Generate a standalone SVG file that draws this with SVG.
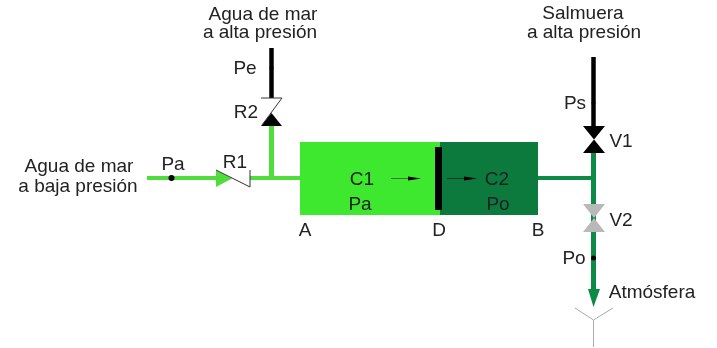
<svg xmlns="http://www.w3.org/2000/svg" width="717" height="348" viewBox="0 0 717 348">
<defs>
<style>
text{font-family:"Liberation Sans",Arial,sans-serif;font-size:19px;fill:#222;text-anchor:middle}
.lg{stroke:#4fdc3c;fill:none}
.dg{stroke:#0f8a45;fill:none}
.bk{stroke:#000;fill:none}
.z{stroke:#333;stroke-width:1;fill:none}
.gr{fill:#b9b9b9}
</style>
<filter id="soft" x="-5%" y="-5%" width="110%" height="110%"><feGaussianBlur stdDeviation="0.5"/></filter>
</defs>
<rect width="717" height="348" fill="#fff"/>
<g filter="url(#soft)">
<g id="connectors">
<path class="lg" stroke-width="4" d="M147 178H216M250 178H300"/>
<path class="lg" stroke-width="5" d="M271.500 126V178"/>
<path class="bk" stroke-width="4.500" d="M271.500 48V98"/>
<path class="bk" stroke-width="4.500" d="M593.500 57V128"/>
<path class="dg" stroke-width="4" d="M538 178H593"/>
<path class="dg" stroke-width="5" d="M593.500 152V292"/>
</g>
<g id="camara">
<rect x="300" y="142" width="142" height="73" fill="#3de82f"/>
<rect x="440" y="142" width="98" height="73" fill="#0b7a3e"/>
<rect x="435" y="147" width="7" height="63" fill="#000"/>
<path d="M391 178.500H411" stroke="#333" stroke-width="0.600"/>
<path d="M408 176.500L421 178.500L408 180.500Z" fill="#000"/>
<path d="M447 178.500H466" stroke="#111" stroke-width="0.600"/>
<path d="M464 176.500L477 178.500L464 180.500Z" fill="#000"/>
<text x="362" y="185">C1</text>
<text x="360" y="210">Pa</text>
<text x="497" y="185">C2</text>
<text x="498" y="210">Po</text>
<text x="305" y="236">A</text>
<text x="439" y="236">D</text>
<text x="538" y="236">B</text>
</g>
<g id="entrada">
<text x="79" y="172">Agua de mar</text>
<text x="78" y="192">a baja presión</text>
<circle cx="171.500" cy="178" r="3" fill="#000"/>
<text x="173" y="170">Pa</text>
</g>
<g id="R1">
<path d="M216 170L232 178.500L216 187Z" fill="#4fdc3c"/>
<path class="z" d="M216 170L250 187V170"/>
<text x="235" y="168">R1</text>
</g>
<g id="R2">
<path d="M271.500 113L282 126H261Z" fill="#000"/>
<path class="z" d="M261 98H282L262 125"/>
<text x="246" y="118">R2</text>
</g>
<g id="Pe">
<text x="263" y="20">Agua de mar</text>
<text x="260" y="38">a alta presión</text>
<text x="245" y="74">Pe</text>
<circle cx="271.500" cy="68" r="2" fill="#000"/>
</g>
<g id="Ps">
<text x="583" y="19">Salmuera</text>
<text x="584" y="38">a alta presión</text>
<text x="575" y="109">Ps</text>
<circle cx="593.500" cy="103" r="2" fill="#000"/>
</g>
<g id="V1">
<path d="M583 126H605L583 153H605Z" fill="#000"/>
<text x="621" y="147">V1</text>
</g>
<g id="V2">
<path class="gr" d="M583 204H605L583 232H605Z"/>
<text x="621" y="226">V2</text>
</g>
<g id="Po">
<text x="574" y="264">Po</text>
<circle cx="593.500" cy="258" r="2.500" fill="#000"/>
</g>
<g id="atmosfera">
<path d="M588 289H600L593.500 307Z" fill="#0f8a45"/>
<path d="M575 308L593.500 320L613 308M593.500 320V347" stroke="#aaa" stroke-width="1" fill="none"/>
<text x="652" y="298">Atmósfera</text>
</g>
</g>
</svg>
